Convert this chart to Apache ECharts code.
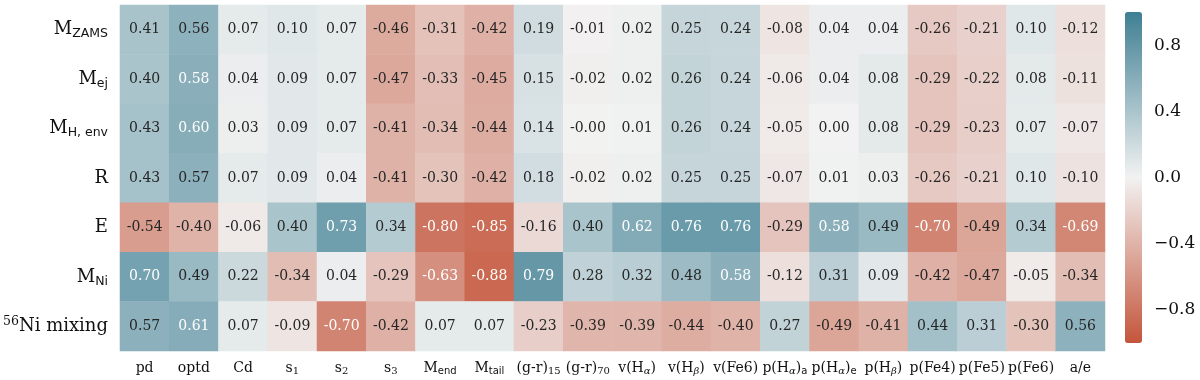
<!DOCTYPE html>
<html>
<head>
<meta charset="utf-8">
<script src="https://cdn.jsdelivr.net/npm/echarts@6/dist/echarts.min.js"></script>
<style>
body {
  margin: 0;
  background: #fff;
}
#chart {
  width: 1200px;
  height: 380px;
}
</style>
</head>
<body>
<div id="chart"></div>
<script>
// row / column labels (rich text markup for sub- and superscripts)
const rowLabels = ['M{sub|ZAMS}', 'M{sub|ej}', 'M{sub|H, env}', 'R', 'E', 'M{sub|Ni}', '{sup|56}Ni mixing']
const colLabels = ['pd', 'optd', 'Cd', 's{sd|1}', 's{sd|2}', 's{sd|3}', 'M{ss|end}', 'M{ss|tail}',
  '(g-r){sd|15}', '(g-r){sd|70}', 'v(H{gs|α})', 'v(H{gs|β})', 'v(Fe6)', 'p(H{gs|α}){ss|a}',
  'p(H{gs|α}){ss|e}', 'p(H{gs|β})', 'p(Fe4)', 'p(Fe5)', 'p(Fe6)', 'a/e']

// correlation values, one array per row
const mZams = [0.41, 0.56, 0.07, 0.10, 0.07, -0.46, -0.31, -0.42, 0.19, -0.01, 0.02, 0.25, 0.24, -0.08, 0.04, 0.04, -0.26, -0.21, 0.10, -0.12]
const mEj = [0.40, 0.58, 0.04, 0.09, 0.07, -0.47, -0.33, -0.45, 0.15, -0.02, 0.02, 0.26, 0.24, -0.06, 0.04, 0.08, -0.29, -0.22, 0.08, -0.11]
const mHenv = [0.43, 0.60, 0.03, 0.09, 0.07, -0.41, -0.34, -0.44, 0.14, -0.003, 0.01, 0.26, 0.24, -0.05, 0.00, 0.08, -0.29, -0.23, 0.07, -0.07]
const radius = [0.43, 0.57, 0.07, 0.09, 0.04, -0.41, -0.30, -0.42, 0.18, -0.02, 0.02, 0.25, 0.25, -0.07, 0.01, 0.03, -0.26, -0.21, 0.10, -0.10]
const energy = [-0.54, -0.40, -0.06, 0.40, 0.73, 0.34, -0.80, -0.85, -0.16, 0.40, 0.62, 0.76, 0.76, -0.29, 0.58, 0.49, -0.70, -0.49, 0.34, -0.69]
const mNi = [0.70, 0.49, 0.22, -0.34, 0.04, -0.29, -0.63, -0.88, 0.79, 0.28, 0.32, 0.48, 0.58, -0.12, 0.31, 0.09, -0.42, -0.47, -0.05, -0.34]
const niMixing = [0.57, 0.61, 0.07, -0.09, -0.70, -0.42, 0.07, 0.07, -0.23, -0.39, -0.39, -0.44, -0.40, 0.27, -0.49, -0.41, 0.44, 0.31, -0.30, 0.56]
const rows = [mZams, mEj, mHenv, radius, energy, mNi, niMixing]

const cbarTicks = [-0.8, -0.4, 0, 0.4, 0.8]
const cmapStops = ['#c4553b', '#f2f2f2', '#3f7f93']

function hexRgb(h) {
  return [1, 3, 5].map(i => parseInt(h.substr(i, 2), 16))
}

// same linear blend the visualMap does, used to pick label colour
function cellColor(v) {
  const t = (v + 1) / 2
  const lo = t < 0.5 ? hexRgb(cmapStops[0]) : hexRgb(cmapStops[1])
  const hi = t < 0.5 ? hexRgb(cmapStops[1]) : hexRgb(cmapStops[2])
  const f = t < 0.5 ? t * 2 : (t - 0.5) * 2
  return lo.map((c, i) => c + (hi[i] - c) * f)
}

function luminance(rgb) {
  const lin = rgb.map(c => {
    c = c / 255
    return c <= 0.03928 ? c / 12.92 : Math.pow((c + 0.055) / 1.055, 2.4)
  })
  return 0.2126 * lin[0] + 0.7152 * lin[1] + 0.0722 * lin[2]
}

const cells = []
rows.forEach((row, i) => {
  row.forEach((v, j) => {
    cells.push({
      value: [j, i, v],
      label: { color: luminance(cellColor(v)) > 0.40 ? '#262626' : '#ffffff' }
    })
  })
})

const serif = 'DejaVu Serif'
const sans = 'DejaVu Sans'

const chart = echarts.init(document.getElementById('chart'))
const option = {
  animation: false,
  grid: [
    { left: 119, top: 5, width: 986, height: 346 },
    { left: 1125, top: 12, width: 17, height: 331 }
  ],
  xAxis: [
    {
      type: 'category',
      data: colLabels,
      gridIndex: 0,
      axisLine: { show: false },
      axisTick: { alignWithLabel: true, length: 5, lineStyle: { color: '#111' } },
      splitArea: { show: false },
      axisLabel: {
        interval: 0,
        margin: 9,
        fontFamily: serif,
        fontSize: 14,
        lineHeight: 16,
        color: '#111',
        rich: {
          sd: { fontFamily: serif, fontSize: 10, lineHeight: 10, verticalAlign: 'bottom', color: '#111' },
          ss: { fontFamily: sans, fontSize: 10, lineHeight: 10, verticalAlign: 'bottom', color: '#111' },
          gs: { fontFamily: serif, fontStyle: 'italic', fontSize: 10, lineHeight: 10, verticalAlign: 'bottom', color: '#111' }
        }
      }
    },
    { type: 'value', gridIndex: 1, show: false, min: 0, max: 1 }
  ],
  yAxis: [
    {
      type: 'category',
      data: rowLabels,
      inverse: true,
      gridIndex: 0,
      axisLine: { show: false },
      axisTick: { alignWithLabel: true, length: 5, lineStyle: { color: '#111' } },
      splitArea: { show: false },
      axisLabel: {
        interval: 0,
        margin: 12,
        fontFamily: serif,
        fontSize: 18,
        lineHeight: 22,
        color: '#111',
        rich: {
          sub: { fontFamily: sans, fontSize: 12.5, lineHeight: 12, verticalAlign: 'bottom', color: '#111' },
          sup: { fontFamily: serif, fontSize: 12.5, lineHeight: 15, verticalAlign: 'top', color: '#111' }
        }
      }
    },
    {
      type: 'value',
      gridIndex: 1,
      position: 'right',
      min: -1,
      max: 1,
      axisLine: { show: false },
      splitLine: { show: false },
      axisTick: { show: true, length: 5, customValues: cbarTicks, lineStyle: { color: '#111' } },
      axisLabel: {
        customValues: cbarTicks,
        margin: 12,
        fontFamily: serif,
        fontSize: 17,
        color: '#111',
        formatter: v => (v < 0 ? '\u2212' : '') + Math.abs(v).toFixed(1)
      }
    }
  ],
  visualMap: {
    type: 'continuous',
    seriesIndex: 0,
    dimension: 2,
    min: -1,
    max: 1,
    calculable: false,
    orient: 'vertical',
    left: 1125,
    top: 12,
    itemWidth: 17,
    itemHeight: 331,
    padding: 0,
    text: null,
    showLabel: false,
    inRange: { color: cmapStops }
  },
  series: [
    {
      type: 'heatmap',
      xAxisIndex: 0,
      yAxisIndex: 0,
      data: cells,
      itemStyle: { borderWidth: 0 },
      emphasis: { disabled: true },
      label: {
        show: true,
        fontFamily: serif,
        fontSize: 14,
        formatter: p => p.value[2].toFixed(2)
      }
    },
    { type: 'line', xAxisIndex: 1, yAxisIndex: 1, data: [] }
  ]
}
chart.setOption(option)
</script>
</body>
</html>
